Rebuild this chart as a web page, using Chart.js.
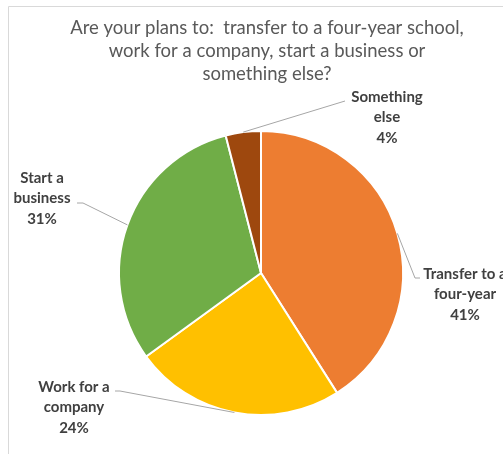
<!DOCTYPE html>
<html>
<head>
<meta charset="utf-8">
<script src="https://cdn.jsdelivr.net/npm/chart.js@4/dist/chart.umd.min.js"></script>
<style>
  html, body { margin: 0; padding: 0; background: #fff; }
  #wrap { position: relative; width: 503px; height: 454px; }
</style>
</head>
<body>
<div id="wrap"><canvas id="grafico"></canvas></div>
<script>
// Dados do gráfico
const titulo = ['Are your plans to:  transfer to a four-year school,', 'work for a company, start a business or', 'something else?'];
const categorias = [['Transfer to a', 'four-year'], ['Work for a', 'company'], ['Start a', 'business'], ['Something', 'else']];
const percentuais = [41, 24, 31, 4];
const cores = ['#ED7D31', '#FFC000', '#70AD47', '#9E480E'];

// Posição dos rótulos (centro da primeira linha) e cotovelo da linha guia
const posRotulos = [[465, 274], [74, 387], [42, 178], [387, 97]];
const cotovelos = [[[415, 278], [420, 278]], [[120, 391], [115, 391]], [[83, 203], [77, 203]], [[345, 101], [345, 101]]];

// Moldura, título e rótulos com linhas guia
const pluginRotulos = {
  id: 'rotulos',
  beforeDraw(chart) {
    const ctx = chart.ctx;
    ctx.save();
    ctx.strokeStyle = '#D9D9D9';
    ctx.lineWidth = 1;
    ctx.beginPath();
    ctx.moveTo(8.5, 454);
    ctx.lineTo(8.5, 6.5);
    ctx.lineTo(503, 6.5);
    ctx.stroke();

    ctx.fillStyle = '#595959';
    ctx.font = '18.5px Lato, Calibri, sans-serif';
    ctx.textAlign = 'center';
    ctx.textBaseline = 'middle';
    titulo.forEach((linha, i) => ctx.fillText(linha, 267, 28 + i * 23));
    ctx.restore();
  },
  afterDraw(chart) {
    const ctx = chart.ctx;
    const arcos = chart.getDatasetMeta(0).data;
    ctx.save();
    arcos.forEach((arco, i) => {
      const p = arco.getProps(['x', 'y', 'startAngle', 'endAngle', 'outerRadius'], true);
      const meio = (p.startAngle + p.endAngle) / 2;
      const x0 = p.x + Math.cos(meio) * p.outerRadius;
      const y0 = p.y + Math.sin(meio) * p.outerRadius;
      const [c1, c2] = cotovelos[i];
      ctx.strokeStyle = '#A6A6A6';
      ctx.lineWidth = 1;
      ctx.beginPath();
      ctx.moveTo(x0, y0);
      ctx.lineTo(c1[0], c1[1]);
      ctx.lineTo(c2[0], c2[1]);
      ctx.stroke();

      const linhas = categorias[i].concat([percentuais[i] + '%']);
      ctx.fillStyle = '#404040';
      ctx.font = 'bold 15px Lato, Calibri, sans-serif';
      ctx.textAlign = 'center';
      ctx.textBaseline = 'middle';
      linhas.forEach((t, j) => ctx.fillText(t, posRotulos[i][0], posRotulos[i][1] + j * 20.5));
    });
    ctx.restore();
  }
};

new Chart(document.getElementById('grafico'), {
  type: 'pie',
  data: {
    labels: categorias.map(c => c.join(' ')),
    datasets: [{
      data: percentuais,
      backgroundColor: cores,
      borderColor: '#ffffff',
      borderWidth: 2
    }]
  },
  options: {
    responsive: true,
    maintainAspectRatio: false,
    animation: false,
    layout: { padding: { top: 130, bottom: 38, left: 118, right: 99 } },
    plugins: {
      legend: { display: false },
      tooltip: { enabled: false },
      title: { display: false }
    }
  },
  plugins: [pluginRotulos]
});
</script>
</body>
</html>
